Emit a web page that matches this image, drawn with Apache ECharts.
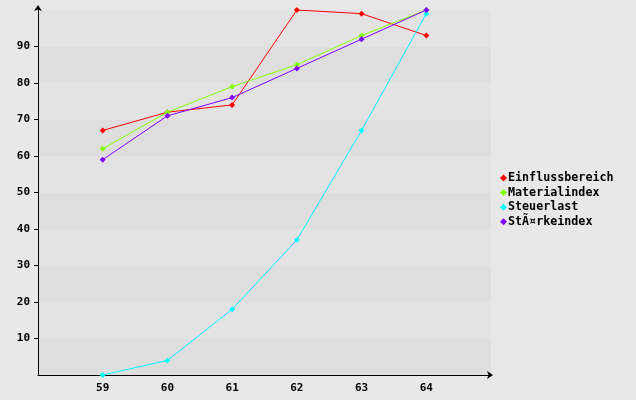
<!DOCTYPE html>
<html><head><meta charset="utf-8">
<script src="https://cdn.jsdelivr.net/npm/echarts@6/dist/echarts.min.js"></script>
<style>html,body{margin:0;padding:0;background:#e8e8e8}#c{width:636px;height:400px}</style>
</head><body><div id="c"></div>
<script>
const xValues = [59, 60, 61, 62, 63, 64];
const seriesNames = ['Einflussbereich', 'Materialindex', 'Steuerlast', 'StÃ¤rkeindex'];
const einfluss = [67, 72, 74, 100, 99, 93];
const material = [62, 72, 79, 85, 93, 100];
const steuer = [0, 4, 18, 37, 67, 99];
const staerke = [59, 71, 76, 84, 92, 100];
const yTicks = [10, 20, 30, 40, 50, 60, 70, 80, 90];
const colors = ['#ff0000', '#80ff00', '#00ffff', '#8000ff'];

const allData = [einfluss, material, steuer, staerke];
const font = {fontFamily: 'DejaVu Sans Mono', fontWeight: 'bold', fontSize: 11, color: '#000'};
const chart = echarts.init(document.getElementById('c'));
chart.setOption({
  backgroundColor: '#e8e8e8',
  animation: false,
  grid: {left: 38, top: 10, right: 145, bottom: 25},
  legend: {
    orient: 'vertical', left: 495, top: 167, itemWidth: 7, itemHeight: 7, itemGap: 2.6,
    icon: 'diamond', textStyle: Object.assign({}, font, {fontSize: 11.7, padding: [0, 0, 0, -4]}),
    data: seriesNames
  },
  xAxis: {
    type: 'value', min: 58, max: 65, interval: 1,
    axisLine: {show: true, lineStyle: {color: '#000', width: 1}, symbol: ['none', 'arrow'], symbolSize: [6, 6], symbolOffset: [0, 2]},
    axisTick: {show: false},
    axisLabel: Object.assign({}, font, {margin: 8, customValues: xValues}),
    splitLine: {show: false}
  },
  yAxis: [{
    type: 'value', min: 0, max: 100, interval: 10,
    axisLine: {show: false},
    axisTick: {show: false},
    axisLabel: {show: false},
    splitLine: {show: false},
    splitArea: {show: true, areaStyle: {color: ['#dedede', '#e3e3e3']}}
  }, {
    type: 'value', min: 0, max: 100, interval: 10, position: 'left',
    axisLine: {show: true, lineStyle: {color: '#000', width: 1}, symbol: ['none', 'arrow'], symbolSize: [6, 6], symbolOffset: [0, 5]},
    axisTick: {show: true, length: 4, customValues: yTicks, lineStyle: {color: '#000'}},
    axisLabel: Object.assign({}, font, {margin: 8, customValues: yTicks}),
    splitLine: {show: false},
    splitArea: {show: false}
  }],
  series: seriesNames.map((n, i) => ({
    name: n, type: 'line', symbol: 'diamond', symbolSize: 6, yAxisIndex: 0,
    color: colors[i], lineStyle: {width: 1, color: colors[i]},
    itemStyle: {color: colors[i]},
    data: xValues.map((x, j) => [x, allData[i][j]])
  }))
});
</script></body></html>
